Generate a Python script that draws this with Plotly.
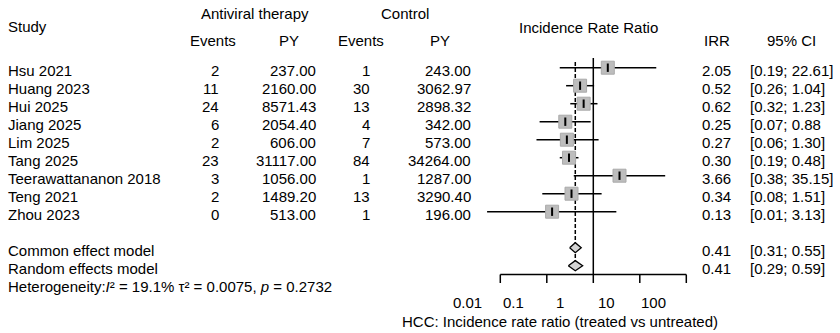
import math
import plotly.graph_objects as go

# ---- study-level data -------------------------------------------------------
studies = ["Hsu 2021", "Huang 2023", "Hui 2025", "Jiang 2025", "Lim 2025",
           "Tang 2025", "Teerawattananon 2018", "Teng 2021", "Zhou 2023"]
ev_trt = [2, 11, 24, 6, 2, 23, 3, 2, 0]
py_trt = [237.00, 2160.00, 8571.43, 2054.40, 606.00, 31117.00, 1056.00, 1489.20, 513.00]
ev_ctl = [1, 30, 13, 4, 7, 84, 1, 13, 1]
py_ctl = [243.00, 3062.97, 2898.32, 342.00, 573.00, 34264.00, 1287.00, 3290.40, 196.00]
irr = [2.05, 0.52, 0.62, 0.25, 0.27, 0.30, 3.66, 0.34, 0.13]
ci_lo = [0.19, 0.26, 0.32, 0.07, 0.06, 0.19, 0.38, 0.08, 0.0052]
ci_hi = [22.61, 1.04, 1.23, 0.88, 1.30, 0.48, 35.15, 1.51, 3.13]
ci_close = ["]", "]", "]", "", "]", "]", "]", "]", "]"]

# ---- pooled estimates --------------------------------------------------------
models = ["Common effect model", "Random effects model"]
model_irr = [0.41, 0.41]
model_lo = [0.31, 0.29]
model_hi = [0.55, 0.59]
heterogeneity = "Heterogeneity:<i>I</i>² = 19.1% τ² = 0.0075, <i>p</i> = 0.2732"

x_ticks = [0.01, 0.1, 1, 10, 100]
tick_labels = ["0.01", "0.1", "1", "10", "100"]
axis_title = "HCC: Incidence rate ratio (treated vs untreated)"

# ---- geometry ----------------------------------------------------------------
W, H = 840, 333
X_NULL_PX, PX_PER_DECADE = 593.3, 46.5      # where IRR = 1 sits, decade width
Y0_PX, ROW_PX = 67.7, 18.0                  # first study row, row spacing
FONT = dict(family="Liberation Sans, Arial, Helvetica, sans-serif", size=15, color="black")
TXT_DY = 0.15                               # text baseline nudge (rows)

n = len(studies)
row_common, row_random = n + 1, n + 2
axis_row = 11.49
tick_end = 11.96

fig = go.Figure()

# confidence interval whiskers
xs, ys = [], []
for k in range(n):
    xs += [ci_lo[k], ci_hi[k], None]
    ys += [k, k, None]
fig.add_trace(go.Scatter(x=xs, y=ys, mode="lines",
                         line=dict(color="black", width=1.5), hoverinfo="skip"))

# reference line at IRR = 1
fig.add_trace(go.Scatter(x=[1, 1], y=[-0.54, axis_row], mode="lines",
                         line=dict(color="black", width=1.5), hoverinfo="skip"))

# pooled estimate line
fig.add_trace(go.Scatter(x=[model_irr[0], model_irr[0]], y=[-0.32, row_random],
                         mode="lines",
                         line=dict(color="black", width=1.5, dash="4px,2px"),
                         hoverinfo="skip"))

# study boxes
fig.add_trace(go.Scatter(x=irr, y=list(range(n)), mode="markers",
                         marker=dict(symbol="square", size=13, color="#bdbdbd",
                                     line=dict(color="#aaaaaa", width=1)),
                         hoverinfo="skip"))
# point estimate ticks
fig.add_trace(go.Scatter(x=irr, y=list(range(n)), mode="markers",
                         marker=dict(symbol="line-ns", size=6,
                                     line=dict(color="black", width=2)),
                         hoverinfo="skip"))

# summary diamonds
half_h = 0.28
for j, row in enumerate([row_common, row_random]):
    fig.add_trace(go.Scatter(
        x=[model_lo[j], model_irr[j], model_hi[j], model_irr[j], model_lo[j]],
        y=[row, row - half_h, row, row + half_h, row],
        mode="lines", fill="toself", fillcolor="#d3d3d3",
        line=dict(color="black", width=1.3), hoverinfo="skip"))

# x axis drawn between 0.01 and 100
ax_x = [x_ticks[0], x_ticks[-1], None]
ax_y = [axis_row, axis_row, None]
for t in x_ticks:
    ax_x += [t, t, None]
    ax_y += [axis_row, tick_end, None]
fig.add_trace(go.Scatter(x=ax_x, y=ax_y, mode="lines",
                         line=dict(color="black", width=1.5), hoverinfo="skip"))

ann = []


def text(x_px, row, s, anchor="left"):
    ann.append(dict(x=x_px / W, xref="paper", y=row, yref="y", text=s,
                    showarrow=False, xanchor=anchor, yanchor="middle",
                    font=FONT))


def hdr_row(px):
    return (px - Y0_PX) / ROW_PX


# headers
text(6, hdr_row(26), "Study")
text(255, hdr_row(13), "Antiviral therapy", "center")
text(405, hdr_row(13), "Control", "center")
text(213, hdr_row(40), "Events", "center")
text(289, hdr_row(40), "PY", "center")
text(361, hdr_row(40), "Events", "center")
text(440, hdr_row(40), "PY", "center")
text(588, hdr_row(27), "Incidence Rate Ratio", "center")
text(717, hdr_row(40), "IRR", "center")
text(791, hdr_row(40), "95% CI", "center")

# study rows
for k in range(n):
    r = k + TXT_DY
    text(6, r, studies[k])
    text(221, r, f"{ev_trt[k]}", "right")
    text(318, r, f"{py_trt[k]:.2f}", "right")
    text(372, r, f"{ev_ctl[k]}", "right")
    text(473, r, f"{py_ctl[k]:.2f}", "right")
    text(733, r, f"{irr[k]:.2f}", "right")
    text(748, r, f"[{ci_lo[k]:.2f}; {ci_hi[k]:.2f}{ci_close[k]}")

# pooled rows
for j, row in enumerate([row_common, row_random]):
    r = row + TXT_DY
    text(6, r, models[j])
    text(733, r, f"{model_irr[j]:.2f}", "right")
    text(748, r, f"[{model_lo[j]:.2f}; {model_hi[j]:.2f}]")
text(6, row_random + 1 + TXT_DY, heterogeneity)

# tick labels and axis title
for t, lab in zip(x_ticks, tick_labels):
    ann.append(dict(x=math.log10(t), xref="x", y=hdr_row(302.7), yref="y",
                    text=lab, showarrow=False, xanchor="center",
                    yanchor="middle", xshift=-33, font=FONT))
ann.append(dict(x=0, xref="x", y=hdr_row(321), yref="y", text=axis_title,
                showarrow=False, xanchor="center", yanchor="middle",
                xshift=-33, font=FONT))

fig.update_layout(
    width=W, height=H,
    margin=dict(l=0, r=0, t=0, b=0),
    paper_bgcolor="white", plot_bgcolor="white",
    showlegend=False,
    xaxis=dict(type="log", visible=False, domain=[0, 1],
               range=[-X_NULL_PX / PX_PER_DECADE, (W - X_NULL_PX) / PX_PER_DECADE]),
    yaxis=dict(visible=False, domain=[0, 1],
               range=[(H - Y0_PX) / ROW_PX, -Y0_PX / ROW_PX]),
    annotations=ann,
)

fig.write_html("out.html")
